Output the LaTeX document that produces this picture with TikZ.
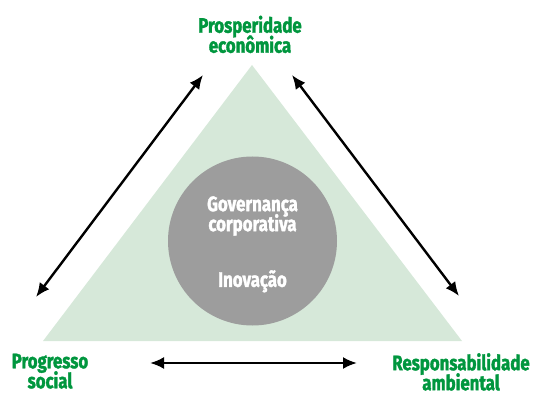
\documentclass[tikz,border=0pt]{standalone}
\usepackage{fontspec}
\setmainfont{Fira Sans}[FakeStretch=0.8,BoldFeatures={FakeBold=1.6}]
\usetikzlibrary{arrows.meta}
\definecolor{pillar}{RGB}{0,150,62}
\definecolor{trifill}{RGB}{214,232,217}
\definecolor{core}{RGB}{157,157,157}
% fixed baseline distance regardless of glyph heights
\newcommand\fixedlines{\lineskiplimit=-50pt\relax}
\tikzset{
  labelfont/.style={font=\bfseries\fontsize{21}{20}\selectfont\fixedlines,
    align=center, inner sep=0pt, anchor=north},
  pillarlabel/.style={labelfont, text=pillar},
  corelabel/.style={labelfont, text=white},
  link/.style={line width=2.4pt, {Latex[length=14pt,width=12pt]}-{Latex[length=14pt,width=12pt]}}
}
\begin{document}
\begin{tikzpicture}[x=1pt,y=-1pt]
  \useasboundingbox (0,0) rectangle (538,395);
  % triangle of the three pillars
  \fill[trifill] (43,341) -- (252,65) -- (462,341) -- cycle;
  % central circle
  \fill[core] (252.5,241) circle (84.5);
  \node[corelabel] (gov) at (252.5,196) {Governança\\corporativa};
  \node[corelabel] (inov) at (252.5,270) {Inovação};
  % pillar labels
  \node[pillarlabel] (eco) at (250,15.5) {Prosperidade\\econômica};
  \node[pillarlabel] (soc) at (50,353.5) {Progresso\\social};
  \node[pillarlabel] (amb) at (461,353) {Responsabilidade\\ambiental};
  % arrow ends
  \coordinate (l1) at (36,297);
  \coordinate (l2) at (203,75);
  \coordinate (r1) at (292,75);
  \coordinate (r2) at (459,296);
  \coordinate (b1) at (150,363);
  \coordinate (b2) at (357,363);
  \draw[link] (l1) -- (l2);
  \draw[link] (r1) -- (r2);
  \draw[link] (b1) -- (b2);
\end{tikzpicture}
\end{document}
